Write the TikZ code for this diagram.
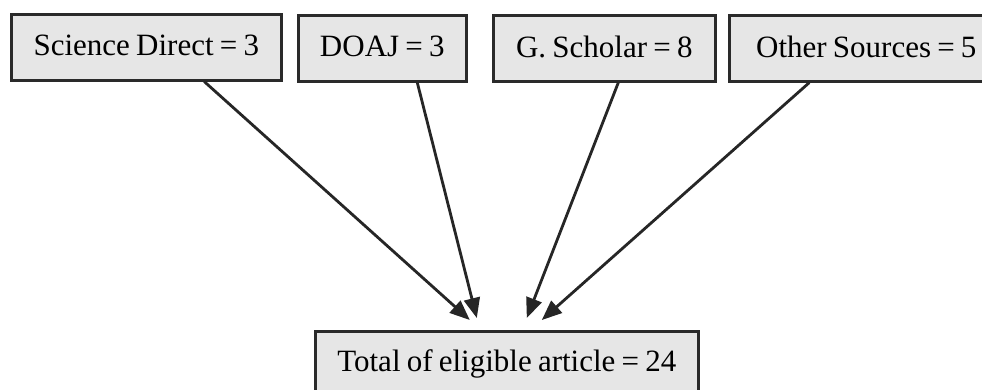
\documentclass[tikz,border=0pt]{standalone}
\usepackage{fontspec}
\setmainfont[WordSpace=0.8]{Liberation Serif}
\usetikzlibrary{arrows.meta}
\definecolor{boxfill}{HTML}{E6E6E6}
\definecolor{boxline}{HTML}{2A2A2A}
\tikzset{
  srcbox/.style={draw=boxline, line width=2.6pt, fill=boxfill, anchor=north west, inner sep=0pt, font=\fontsize{31}{34}\selectfont, text=black},
  conn/.style={line width=2.8pt, draw=black!85, -{Triangle[length=20pt,width=16pt]}}
}
\begin{document}
\begin{tikzpicture}[x=1pt,y=-1pt]
\useasboundingbox (0,0) rectangle (982,390);
\clip (0,0) rectangle (982,390);
\fill[white] (0,0) rectangle (982,390);
\node[srcbox, minimum width=270pt, minimum height=66pt] (sd) at (10,13) {\raisebox{4pt}{Science Direct = 3}};
\node[srcbox, minimum width=168pt, minimum height=66pt] (doaj) at (297,14) {\raisebox{4pt}{DOAJ = 3}};
\node[srcbox, minimum width=222pt, minimum height=66pt] (gs) at (492,14) {\raisebox{4pt}{G. Scholar = 8}};
\node[srcbox, minimum width=274pt, minimum height=66pt] (os) at (728,14) {\raisebox{4pt}{Other Sources = 5}};
\node[srcbox, minimum width=383pt, minimum height=80pt, text depth=0pt] (tot) at (314,330) {\raisebox{21pt}{Total of eligible article = 24}};
\draw[conn] ([xshift=58pt]sd.south) -- ([xshift=-37pt,yshift=10pt]tot.north);
\draw[conn] ([xshift=35pt]doaj.south) -- ([xshift=-30pt,yshift=12pt]tot.north);
\draw[conn] ([xshift=14pt]gs.south) -- ([xshift=20pt,yshift=12pt]tot.north);
\draw[conn] ([xshift=-57pt]os.south) -- ([xshift=35pt,yshift=10pt]tot.north);
\end{tikzpicture}
\end{document}
